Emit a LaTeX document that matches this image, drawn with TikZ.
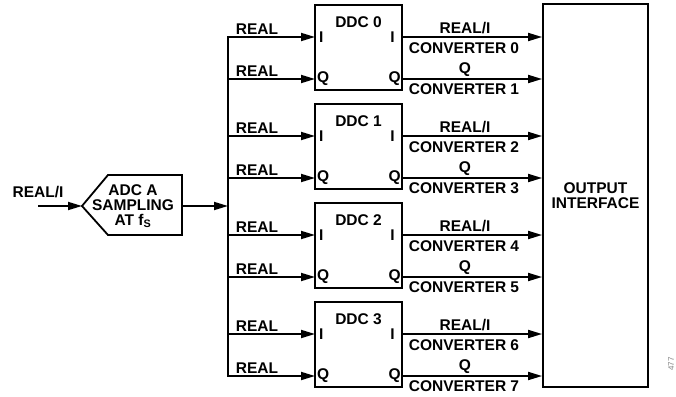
\documentclass[tikz,border=0pt]{standalone}
\usepackage{fontspec}
\setmainfont{Liberation Sans}
\usetikzlibrary{arrows.meta,positioning}

\begin{document}
\begin{tikzpicture}[x=1pt,y=-1pt,
  lbl/.style={font=\fontsize{15.5}{15}\selectfont\bfseries, inner sep=0pt, align=center},
  ddcbox/.style={draw, line width=1.8pt, minimum width=87pt, minimum height=85pt, inner sep=0pt},
  sig/.style={-{Triangle[length=14pt,width=8pt]}, line width=1.8pt}]
\useasboundingbox (0,0) rectangle (676,396);
% input and ADC
\node[lbl] (inlbl) at (38,192) {REAL/I};
\coordinate (src) at (38,206);
\coordinate (adcin) at (82,206);
\coordinate (adcout) at (182,206);
\draw[line width=1.8pt, line join=miter] (adcin) -- (108,175) -- (182,175) -- (182,235) -- (108,235) -- cycle;
\node[lbl] (adc) at (133,206) {ADC A\\SAMPLING\\AT f\textsubscript{S}};
\draw[sig] (src) -- (adcin);
% bus
\coordinate (bustop) at (228,37);
\coordinate (busbot) at (228,376);
\draw[line width=1.8pt, line cap=rect] (bustop) -- (busbot);
\draw[sig] (adcout) -- (adcout -| bustop);
% output interface
\node[draw, line width=1.8pt, minimum width=105pt, minimum height=383pt, inner sep=0pt] (out) at (595.5,195.5) {};
\node[lbl] (outlbl) at (out.center) {OUTPUT\\INTERFACE};
% DDC blocks
\foreach \i in {0,...,3}{
  \pgfmathsetmacro{\ytop}{5+99*\i}
  \pgfmathtruncatemacro{\ca}{2*\i}
  \pgfmathtruncatemacro{\cb}{2*\i+1}
  \node[ddcbox] (ddc\i) at (358.5,\ytop+42.5) {};
  \node[lbl] (ddcname\i) at (358.5,\ytop+17) {DDC \i};
  \coordinate (pi\i) at (315,\ytop+32);
  \coordinate (pq\i) at (315,\ytop+74);
  \node[lbl, anchor=west] (iin\i) at ([xshift=4pt]pi\i) {I};
  \node[lbl, anchor=west] (qin\i) at ([xshift=2pt]pq\i) {Q};
  \node[lbl, anchor=east] (iout\i) at ([xshift=-8pt]pi\i -| ddc\i.east) {I};
  \node[lbl, anchor=east] (qout\i) at ([xshift=-2pt]pq\i -| ddc\i.east) {Q};
  \draw[sig] (pi\i -| bustop) -- (pi\i);
  \draw[sig] (pq\i -| bustop) -- (pq\i);
  \node[lbl] (reali\i) at (257,\ytop+24) {REAL};
  \node[lbl] (realq\i) at (257,\ytop+66) {REAL};
  \draw[sig] (pi\i -| ddc\i.east) -- (pi\i -| out.west);
  \draw[sig] (pq\i -| ddc\i.east) -- (pq\i -| out.west);
  \node[lbl] (ilbl\i) at (465,\ytop+23) {REAL/I};
  \node[lbl] (conva\i) at (464,\ytop+43) {CONVERTER \ca};
  \node[lbl] (qlbl\i) at (465,\ytop+65) {Q};
  \node[lbl] (convb\i) at (464,\ytop+84) {CONVERTER \cb};
}
\node[rotate=90, font=\fontsize{8}{8}\selectfont, text=gray, inner sep=0pt] (fignum) at (671,364) {477};
\end{tikzpicture}
\end{document}
